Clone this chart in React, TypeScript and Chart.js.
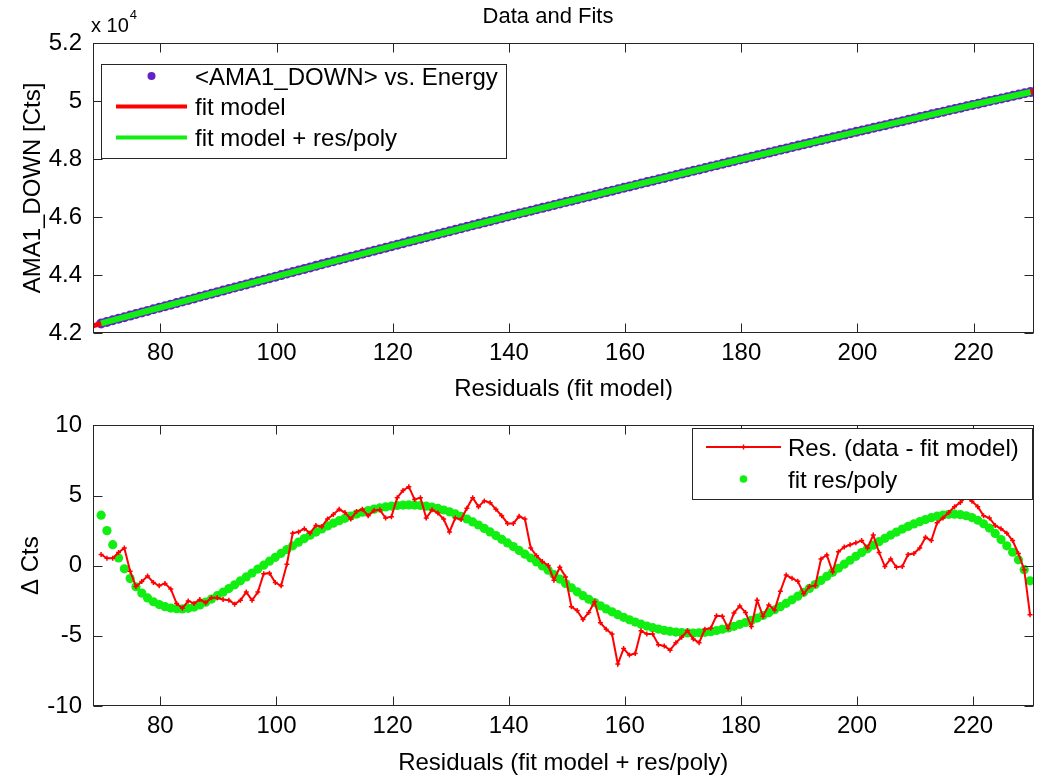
import React, { useEffect, useRef } from 'react';
import { Chart, registerables } from 'chart.js';

Chart.register(...registerables);

const FONT = "'Liberation Sans', Arial, Helvetica, sans-serif";
const PURPLE = '#6322c8';
const RED = '#ff0000';
const GREEN = '#11ee11';
const AXIS = '#262626';

// ---- data ----
const X_START = 69.8; // energy grid of the measured points
const X_STEP = 1;
const X_MIN = 68.4;
const X_MAX = 230.4;
const X_TICKS = [80, 100, 120, 140, 160, 180, 200, 220];
const TOP_Y_TICKS = [42000, 44000, 46000, 48000, 50000, 52000];
const BOT_Y_TICKS = [-10, -5, 0, 5, 10];

const DATA_COUNTS = [
  42328, 42383, 42437, 42492, 42546, 42600, 42653, 42708, 42762, 42817,
  42871, 42925, 42978, 43031, 43085, 43139, 43192, 43247, 43300, 43355,
  43409, 43462, 43516, 43568, 43622, 43676, 43729, 43782, 43836, 43890,
  43943, 43996, 44049, 44104, 44156, 44210, 44262, 44315, 44368, 44420,
  44474, 44526, 44578, 44629, 44682, 44735, 44787, 44839, 44891, 44942,
  44994, 45047, 45099, 45151, 45202, 45253, 45302, 45355, 45406, 45457,
  45507, 45559, 45610, 45662, 45714, 45764, 45815, 45865, 45916, 45967,
  46017, 46067, 46118, 46168, 46216, 46266, 46315, 46365, 46415, 46466,
  46515, 46563, 46612, 46661, 46711, 46761, 46810, 46858, 46908, 46955,
  47006, 47055, 47104, 47154, 47203, 47252, 47299, 47348, 47397, 47447,
  47496, 47544, 47593, 47641, 47690, 47739, 47787, 47836, 47884, 47934,
  47982, 48030, 48077, 48126, 48172, 48221, 48269, 48318, 48366, 48414,
  48462, 48508, 48556, 48603, 48651, 48700, 48746, 48794, 48841, 48888,
  48936, 48983, 49028, 49076, 49121, 49167, 49213, 49260, 49306, 49354,
  49400, 49446, 49493, 49539, 49586, 49632, 49678, 49724, 49771, 49817,
  49863, 49907, 49953, 49997, 50042, 50088, 50132, 50177, 50221, 50266,
  50308,
];

const FIT_X = [68.4, 80, 100, 120, 140, 160, 180, 200, 220, 230.4];
const FIT_Y = [42250, 42883, 43954, 45001, 46023, 47021, 47994, 48943, 49867, 50338];

const FITPOLY_X = [69.8, 80, 100, 120, 140, 160, 180, 200, 220, 229.8];
const FITPOLY_Y = [42331, 42880, 43955, 45005, 46025, 47017, 47990, 48944, 49870, 50310];

const RESIDUALS = [
  0.8, 0.53, 0.53, 0.94, 1.26, -0.39, -1.49, -1.13, -0.74, -1.2,
  -1.43, -1.26, -1.66, -2.69, -3.03, -2.51, -2.69, -2.41, -2.64, -2.28,
  -2.28, -2.41, -2.46, -2.74, -2.46, -1.88, -2.46, -1.88, -0.57, -0.53,
  -1.2, -1.43, 0.11, 2.32, 2.41, 2.64, 2.32, 2.87, 2.78, 3.33,
  3.65, 4.02, 3.79, 3.33, 3.86, 4.02, 3.56, 3.93, 3.98, 3.4,
  3.49, 4.85, 5.36, 5.63, 4.71, 4.85, 3.4, 3.98, 3.75, 3.33,
  2.41, 3.4, 3.29, 4.09, 4.85, 4.21, 4.62, 4.49, 4.02, 3.56,
  3.01, 3.01, 3.52, 3.33, 1.26, 0.71, 0.3, 0.02, -1.03, -0.11,
  -0.8, -2.92, -3.2, -3.84, -3.33, -2.57, -4.07, -4.53, -4.87, -7.01,
  -5.91, -6.37, -6.25, -4.64, -4.87, -4.87, -5.63, -5.72, -6.02, -5.49,
  -5.1, -4.64, -5.22, -5.49, -4.53, -4.46, -3.56, -3.61, -4.46, -3.38,
  -2.87, -3.33, -4.34, -2.46, -3.61, -2.8, -3.15, -1.82, -0.67, -0.9,
  -1.1, -2.0, -1.49, -1.42, 0.48, 0.76, -0.44, 0.99, 1.33, 1.49,
  1.63, 1.79, 1.26, 2.18, 0.94, -0.05, 0.48, -0.11, -0.05, 0.8,
  0.87, 1.26, 2.02, 1.79, 3.06, 3.4, 3.79, 4.21, 4.5, 4.9,
  4.6, 4.21, 3.56, 3.4, 2.87, 2.64, 2.32, 1.79, 0.87, -0.28, -3.49,
];

const RES_POLY = [
  3.6, 2.5, 1.5, 0.55, -0.22, -0.92, -1.5, -1.95, -2.3, -2.57,
  -2.77, -2.92, -3.02, -3.07, -3.08, -3.04, -2.95, -2.8, -2.6, -2.38,
  -2.14, -1.89, -1.63, -1.36, -1.08, -0.8, -0.52, -0.24, 0.04, 0.32,
  0.6, 0.88, 1.15, 1.42, 1.68, 1.93, 2.17, 2.4, 2.62, 2.83,
  3.03, 3.21, 3.38, 3.54, 3.68, 3.81, 3.93, 4.03, 4.12, 4.19,
  4.25, 4.29, 4.32, 4.33, 4.32, 4.29, 4.24, 4.17, 4.08, 3.97,
  3.84, 3.69, 3.52, 3.33, 3.12, 2.9, 2.66, 2.41, 2.15, 1.88,
  1.62, 1.36, 1.09, 0.82, 0.55, 0.27, -0.02, -0.32, -0.63, -0.95,
  -1.27, -1.57, -1.86, -2.14, -2.39, -2.63, -2.86, -3.08, -3.29, -3.49,
  -3.68, -3.86, -4.02, -4.17, -4.3, -4.42, -4.52, -4.61, -4.68, -4.73,
  -4.77, -4.79, -4.8, -4.78, -4.75, -4.7, -4.62, -4.53, -4.44, -4.32,
  -4.18, -4.05, -3.9, -3.73, -3.55, -3.35, -3.14, -2.92, -2.68, -2.43,
  -2.17, -1.9, -1.62, -1.34, -1.05, -0.76, -0.47, -0.18, 0.11, 0.39,
  0.67, 0.94, 1.2, 1.46, 1.71, 1.95, 2.18, 2.4, 2.61, 2.8,
  2.98, 3.14, 3.29, 3.42, 3.53, 3.61, 3.66, 3.67, 3.64, 3.56,
  3.43, 3.24, 2.99, 2.68, 2.3, 1.86, 1.42, 0.96, 0.42, -0.28, -1.08,
];

const xAt = (i: number) => +(X_START + i * X_STEP).toFixed(2);
const pts = (ys: number[]) => ys.map((y, i) => ({ x: xAt(i), y }));
const pairs = (xs: number[], ys: number[]) => xs.map((x, i) => ({ x, y: ys[i] }));

// ---- scales ----
function scaleX(h: number, pad: number) {
  return {
    type: 'linear' as const,
    min: X_MIN,
    max: X_MAX,
    afterBuildTicks: (s: any) => {
      s.ticks = X_TICKS.map((v) => ({ value: v }));
    },
    afterFit: (s: any) => {
      s.height = h;
    },
    grid: { display: false, drawTicks: false },
    border: { display: false },
    ticks: {
      font: { family: FONT, size: 24 },
      color: '#000',
      padding: pad,
      maxRotation: 0,
      autoSkip: false,
      callback: (v: any) => String(v),
    },
  };
}

function scaleY(min: number, max: number, ticks: number[], fmt: (v: number) => string) {
  return {
    type: 'linear' as const,
    min,
    max,
    afterBuildTicks: (s: any) => {
      s.ticks = ticks.map((v) => ({ value: v }));
    },
    afterFit: (s: any) => {
      s.width = 93;
    },
    grid: { display: false, drawTicks: false },
    border: { display: false },
    ticks: {
      font: { family: FONT, size: 24 },
      color: '#000',
      padding: 11,
      autoSkip: false,
      callback: (v: any) => fmt(Number(v)),
    },
  };
}

type Row = { y: number; label: string; color: string; line?: number; dot?: number; cross?: boolean };
type Deco = {
  xTitle: string;
  xTitleY: number;
  yTitle: string;
  yTitleX: number;
  title?: { text: string; x: number; y: number };
  exponent?: boolean;
  legend: { x0: number; y0: number; x1: number; y1: number; s0: number; s1: number; tx: number; rows: Row[] };
};

function decoPlugin(d: Deco) {
  return {
    id: 'deco',
    afterDraw(chart: any) {
      const { ctx, chartArea: a, scales } = chart;
      ctx.save();
      // axes box
      const L = Math.round(a.left) + 0.5;
      const R = Math.round(a.right) - 0.5;
      const T = Math.round(a.top) + 0.5;
      const B = Math.round(a.bottom) - 0.5;
      ctx.strokeStyle = AXIS;
      ctx.lineWidth = 1;
      ctx.strokeRect(L, T, R - L, B - T);
      ctx.beginPath();
      scales.x.ticks.forEach((t: any) => {
        const px = Math.round(scales.x.getPixelForValue(t.value)) + 0.5;
        ctx.moveTo(px, B);
        ctx.lineTo(px, B - 9);
        ctx.moveTo(px, T);
        ctx.lineTo(px, T + 9);
      });
      scales.y.ticks.forEach((t: any) => {
        const py = Math.round(scales.y.getPixelForValue(t.value)) + 0.5;
        ctx.moveTo(L, py);
        ctx.lineTo(L + 9, py);
        ctx.moveTo(R, py);
        ctx.lineTo(R - 9, py);
      });
      ctx.stroke();

      // titles
      ctx.fillStyle = '#000';
      ctx.font = `24px ${FONT}`;
      ctx.textAlign = 'center';
      ctx.textBaseline = 'middle';
      ctx.fillText(d.xTitle, (a.left + a.right) / 2, d.xTitleY);
      ctx.save();
      ctx.translate(d.yTitleX, (a.top + a.bottom) / 2);
      ctx.rotate(-Math.PI / 2);
      ctx.textBaseline = 'alphabetic';
      ctx.fillText(d.yTitle, 0, 0);
      ctx.restore();
      if (d.title) {
        ctx.font = `22px ${FONT}`;
        ctx.fillText(d.title.text, d.title.x, d.title.y);
      }
      if (d.exponent) {
        ctx.textAlign = 'left';
        ctx.textBaseline = 'alphabetic';
        ctx.font = `20px ${FONT}`;
        ctx.fillText('x 10', 91, 32);
        const w = ctx.measureText('x 10').width;
        ctx.font = `13px ${FONT}`;
        ctx.fillText('4', 91 + w + 1, 19);
      }

      // legend
      const g = d.legend;
      ctx.fillStyle = '#fff';
      ctx.fillRect(g.x0, g.y0, g.x1 - g.x0, g.y1 - g.y0);
      ctx.strokeStyle = AXIS;
      ctx.lineWidth = 1;
      ctx.strokeRect(g.x0 + 0.5, g.y0 + 0.5, g.x1 - g.x0, g.y1 - g.y0);
      const mid = (g.s0 + g.s1) / 2;
      g.rows.forEach((r) => {
        if (r.line) {
          ctx.strokeStyle = r.color;
          ctx.lineWidth = r.line;
          ctx.beginPath();
          ctx.moveTo(g.s0, r.y);
          ctx.lineTo(g.s1, r.y);
          ctx.stroke();
        }
        if (r.dot) {
          ctx.fillStyle = r.color;
          ctx.beginPath();
          ctx.arc(mid, r.y, r.dot, 0, Math.PI * 2);
          ctx.fill();
        }
        if (r.cross) {
          ctx.strokeStyle = r.color;
          ctx.lineWidth = 1.5;
          ctx.beginPath();
          ctx.moveTo(mid - 2.5, r.y);
          ctx.lineTo(mid + 2.5, r.y);
          ctx.moveTo(mid, r.y - 2.5);
          ctx.lineTo(mid, r.y + 2.5);
          ctx.stroke();
        }
        ctx.fillStyle = '#000';
        ctx.font = `24px ${FONT}`;
        ctx.textAlign = 'left';
        ctx.textBaseline = 'alphabetic';
        ctx.fillText(r.label, g.tx, r.y + 8.5);
      });
      ctx.restore();
    },
  };
}

function topConfig(): any {
  return {
    type: 'scatter',
    data: {
      datasets: [
        {
          label: '<AMA1_DOWN> vs. Energy',
          data: pts(DATA_COUNTS),
          showLine: false,
          pointRadius: 5,
          pointBackgroundColor: PURPLE,
          pointBorderWidth: 0,
          order: 3,
        },
        {
          label: 'fit model',
          data: pairs(FIT_X, FIT_Y),
          showLine: true,
          borderColor: RED,
          borderWidth: 5,
          pointRadius: 0,
          order: 2,
        },
        {
          label: 'fit model + res/poly',
          data: pairs(FITPOLY_X, FITPOLY_Y),
          showLine: true,
          borderColor: GREEN,
          borderWidth: 6,
          pointRadius: 0,
          order: 1,
        },
      ],
    },
    options: {
      responsive: false,
      animation: false,
      events: [],
      layout: { padding: { top: 43, right: 3, left: 0, bottom: 0 } },
      plugins: { legend: { display: false }, tooltip: { enabled: false }, title: { display: false } },
      scales: {
        x: scaleX(67, 6),
        y: scaleY(42000, 52000, TOP_Y_TICKS, (v) => String(Math.round(v / 1000) / 10)),
      },
    },
    plugins: [
      decoPlugin({
        xTitle: 'Residuals (fit model)',
        xTitleY: 389,
        yTitle: 'AMA1_DOWN [Cts]',
        yTitleX: 40,
        title: { text: 'Data and Fits', x: 548, y: 17 },
        exponent: true,
        legend: {
          x0: 101, y0: 64, x1: 506, y1: 158, s0: 116, s1: 187, tx: 195,
          rows: [
            { y: 76, label: '<AMA1_DOWN> vs. Energy', color: PURPLE, dot: 4 },
            { y: 106.5, label: 'fit model', color: RED, line: 4 },
            { y: 137.5, label: 'fit model + res/poly', color: GREEN, line: 4 },
          ],
        },
      }),
    ],
  };
}

function bottomConfig(): any {
  return {
    type: 'scatter',
    data: {
      datasets: [
        {
          label: 'Res. (data - fit model)',
          data: pts(RESIDUALS),
          showLine: true,
          borderColor: RED,
          borderWidth: 2,
          pointStyle: 'cross',
          pointRadius: 2.5,
          pointBorderColor: RED,
          pointBorderWidth: 1.5,
          order: 1,
        },
        {
          label: 'fit res/poly',
          data: pts(RES_POLY),
          showLine: false,
          pointRadius: 4.6,
          pointBackgroundColor: GREEN,
          pointBorderWidth: 0,
          order: 2,
        },
      ],
    },
    options: {
      responsive: false,
      animation: false,
      events: [],
      layout: { padding: { top: 16, right: 3, left: 0, bottom: 0 } },
      plugins: { legend: { display: false }, tooltip: { enabled: false }, title: { display: false } },
      scales: {
        x: scaleX(70, 6),
        y: scaleY(-10, 10, BOT_Y_TICKS, (v) => String(v)),
      },
    },
    plugins: [
      decoPlugin({
        xTitle: 'Residuals (fit model + res/poly)',
        xTitleY: 363,
        yTitle: '\u0394 Cts',
        yTitleX: 38,
        legend: {
          x0: 692, y0: 28, x1: 1032, y1: 99, s0: 706, s1: 781, tx: 788,
          rows: [
            { y: 47, label: 'Res. (data - fit model)', color: RED, line: 2, cross: true },
            { y: 79, label: 'fit res/poly', color: GREEN, dot: 3.8 },
          ],
        },
      }),
    ],
  };
}

function ChartCanvas({ top, height, build }: { top: number; height: number; build: () => any }) {
  const ref = useRef<HTMLCanvasElement>(null);
  useEffect(() => {
    const chart = new Chart(ref.current as HTMLCanvasElement, build());
    return () => chart.destroy();
  }, []);
  return (
    <canvas
      ref={ref}
      width={1039}
      height={height}
      style={{ position: 'absolute', left: 0, top, width: 1039, height, display: 'block' }}
    />
  );
}

export default function App() {
  return (
    <div style={{ position: 'absolute', left: 0, top: 0, width: 1039, height: 776, background: '#fff', fontFamily: FONT }}>
      <ChartCanvas top={0} height={400} build={topConfig} />
      <ChartCanvas top={400} height={376} build={bottomConfig} />
    </div>
  );
}
